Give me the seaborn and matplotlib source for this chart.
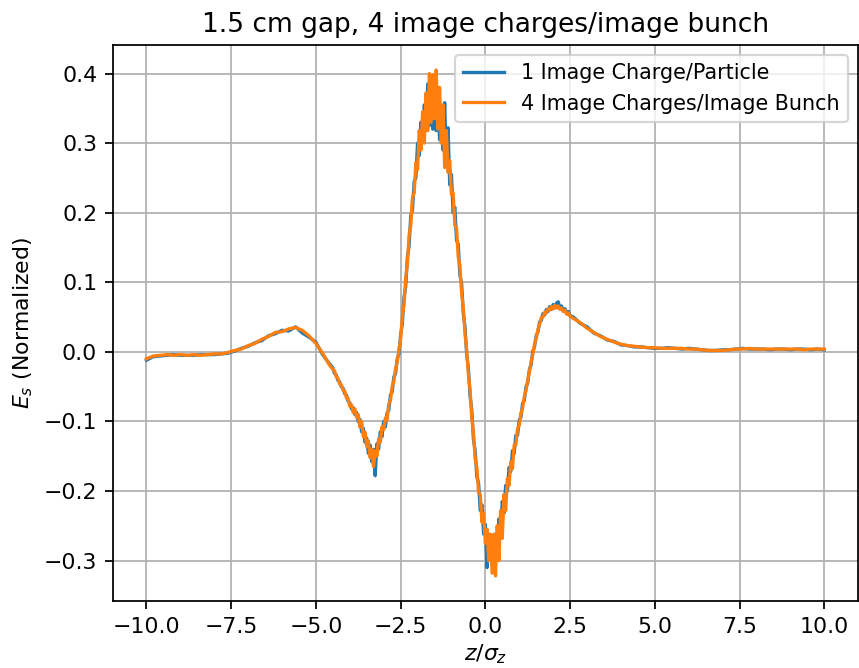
import numpy as np
import pandas as pd
import matplotlib
matplotlib.use("Agg")
import matplotlib.pyplot as plt
import seaborn as sns

# Sampling grid in z/sigma_z: coarse in the tails, fine through the wake
z_left = np.round(np.arange(-10.0, -4.59, 0.2), 2)
z_mid = np.round(np.arange(-4.5, 2.501, 0.05), 2)
z_right = np.round(np.arange(2.6, 10.001, 0.2), 2)

# Longitudinal field, 1 image charge per particle
es_single_left = [
    -0.012, -0.007, -0.006, -0.005, -0.004, -0.005, -0.005, -0.005, -0.004, -0.004,
    -0.004, -0.003, -0.002, 0.001, 0.005, 0.008, 0.013, 0.016, 0.023, 0.026,
    0.031, 0.030, 0.036, 0.027, 0.021, 0.014, -0.004, -0.017,
]
es_single_mid = [
    -0.023, -0.031, -0.033, -0.041, -0.043, -0.050, -0.052, -0.060, -0.062, -0.071,
    -0.073, -0.082, -0.080, -0.090, -0.087, -0.100, -0.097, -0.115, -0.110, -0.130,
    -0.124, -0.146, -0.134, -0.158, -0.140, -0.178, -0.132, -0.140, -0.115, -0.122,
    -0.100, -0.108, -0.088, -0.084, -0.062, -0.058, -0.036, -0.031, -0.010, -0.003,
    0.024, 0.040, 0.078, 0.094, 0.136, 0.152, 0.196, 0.204, 0.245, 0.250,
    0.300, 0.282, 0.330, 0.305, 0.355, 0.318, 0.385, 0.325, 0.390, 0.320,
    0.372, 0.318, 0.362, 0.305, 0.350, 0.290, 0.358, 0.275, 0.322, 0.240,
    0.255, 0.200, 0.208, 0.160, 0.155, 0.110, 0.098, 0.055, 0.036, -0.004,
    -0.024, -0.064, -0.084, -0.126, -0.142, -0.180, -0.188, -0.228, -0.220, -0.262,
    -0.248, -0.310, -0.262, -0.295, -0.270, -0.298, -0.262, -0.285, -0.240, -0.262,
    -0.215, -0.232, -0.192, -0.200, -0.166, -0.172, -0.142, -0.146, -0.120, -0.120,
    -0.098, -0.094, -0.074, -0.070, -0.050, -0.045, -0.025, -0.019, 0.001, 0.007,
    0.023, 0.028, 0.043, 0.045, 0.055, 0.053, 0.061, 0.058, 0.065, 0.061,
    0.068, 0.063, 0.070, 0.072, 0.063, 0.066, 0.059, 0.062, 0.055, 0.058,
    0.052,
]
es_single_right = [
    0.050, 0.041, 0.036, 0.027, 0.023, 0.017, 0.015, 0.010, 0.009, 0.007,
    0.007, 0.006, 0.005, 0.005, 0.006, 0.005, 0.004, 0.005, 0.004, 0.003,
    0.002, 0.002, 0.003, 0.003, 0.004, 0.005, 0.004, 0.004, 0.004, 0.003,
    0.004, 0.004, 0.003, 0.004, 0.004, 0.003, 0.004, 0.003,
]

# Longitudinal field, 4 image charges per image bunch
es_bunch_left = [
    -0.010, -0.006, -0.005, -0.004, -0.005, -0.004, -0.005, -0.004, -0.005, -0.004,
    -0.003, -0.003, -0.001, 0.002, 0.004, 0.009, 0.012, 0.018, 0.022, 0.028,
    0.029, 0.033, 0.035, 0.031, 0.023, 0.012, -0.002, -0.019,
]
es_bunch_mid = [
    -0.025, -0.027, -0.036, -0.038, -0.046, -0.047, -0.055, -0.056, -0.066, -0.067,
    -0.078, -0.076, -0.087, -0.082, -0.094, -0.090, -0.108, -0.100, -0.122, -0.115,
    -0.136, -0.128, -0.152, -0.140, -0.165, -0.142, -0.150, -0.125, -0.130, -0.108,
    -0.112, -0.095, -0.098, -0.075, -0.070, -0.050, -0.043, -0.024, -0.015, 0.003,
    0.018, 0.050, 0.068, 0.106, 0.126, 0.168, 0.182, 0.222, 0.228, 0.272,
    0.262, 0.318, 0.290, 0.345, 0.300, 0.372, 0.318, 0.400, 0.330, 0.398,
    0.335, 0.405, 0.320, 0.380, 0.300, 0.355, 0.265, 0.318, 0.258, 0.275,
    0.226, 0.228, 0.182, 0.178, 0.136, 0.124, 0.084, 0.064, 0.026, 0.002,
    -0.032, -0.055, -0.095, -0.116, -0.154, -0.166, -0.202, -0.205, -0.245, -0.232,
    -0.275, -0.255, -0.300, -0.262, -0.318, -0.262, -0.322, -0.250, -0.300, -0.228,
    -0.268, -0.205, -0.228, -0.182, -0.192, -0.158, -0.168, -0.134, -0.134, -0.110,
    -0.106, -0.088, -0.081, -0.064, -0.056, -0.040, -0.030, -0.014, -0.004, 0.011,
    0.019, 0.032, 0.039, 0.049, 0.050, 0.057, 0.056, 0.062, 0.060, 0.065,
    0.062, 0.067, 0.063, 0.066, 0.061, 0.063, 0.058, 0.060, 0.054, 0.056,
    0.051,
]
es_bunch_right = [
    0.048, 0.042, 0.034, 0.028, 0.022, 0.018, 0.014, 0.011, 0.009, 0.008,
    0.007, 0.006, 0.006, 0.005, 0.005, 0.005, 0.005, 0.004, 0.004, 0.003,
    0.002, 0.002, 0.002, 0.003, 0.004, 0.004, 0.005, 0.004, 0.004, 0.004,
    0.004, 0.004, 0.004, 0.004, 0.003, 0.004, 0.004, 0.004,
]

series_labels = ["1 Image Charge/Particle", "4 Image Charges/Image Bunch"]
series_colors = ["#1f77b4", "#ff7f0e"]

z = np.concatenate([z_left, z_mid, z_right])
es_single = np.array(es_single_left + es_single_mid + es_single_right)
es_bunch = np.array(es_bunch_left + es_bunch_mid + es_bunch_right)

df_single = pd.DataFrame({"z": z, "Es": es_single})
df_bunch = pd.DataFrame({"z": z, "Es": es_bunch})

DPI = 158
fig, ax = plt.subplots(figsize=(859 / DPI, 668 / DPI), dpi=DPI)
fig.subplots_adjust(left=0.131, right=0.999, top=0.933, bottom=0.100)

sns.lineplot(data=df_single, x="z", y="Es", ax=ax, color=series_colors[0],
             label=series_labels[0], linewidth=1.5, sort=False, estimator=None)
sns.lineplot(data=df_bunch, x="z", y="Es", ax=ax, color=series_colors[1],
             label=series_labels[1], linewidth=1.5, sort=False, estimator=None)

ax.grid(True, color="#b0b0b0", linewidth=0.8)
ax.set_axisbelow(True)
ax.set_xticks([-10.0, -7.5, -5.0, -2.5, 0.0, 2.5, 5.0, 7.5, 10.0])
ax.set_xlabel(r"$z/\sigma_z$", labelpad=2.5)
ax.set_ylabel(r"$E_s$ (Normalized)")
ax.set_title("1.5 cm gap, 4 image charges/image bunch", fontsize=12)
ax.legend(loc="upper right", fontsize=9.4)

fig.savefig("out.png", dpi=DPI)
